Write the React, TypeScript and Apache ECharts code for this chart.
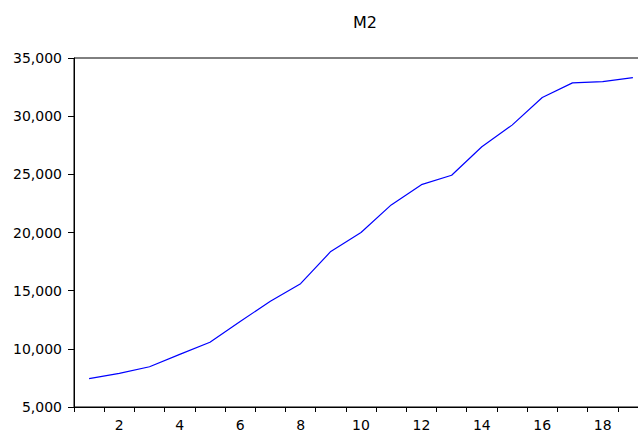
import React, { useEffect, useRef } from "react";
import * as echarts from "echarts";

const title = "M2";
const categories = ["1","2","3","4","5","6","7","8","9","10","11","12","13","14","15","16","17","18","19"];
const m2Values = [7440, 7890, 8460, 9520, 10570, 12350, 14090, 15600, 18370, 20000, 22370, 24110, 24920, 27370, 29230, 31610, 32860, 32970, 33320];
const yMin = 5000;
const yMax = 35000;
const yStep = 5000;

export default function App() {
  const ref = useRef<HTMLDivElement>(null);
  useEffect(() => {
    if (!ref.current) return;
    const chart = echarts.init(ref.current, undefined, { renderer: "svg" });
    const font = "DejaVu Sans";
    chart.setOption({
      animation: false,
      backgroundColor: "#ffffff",
      title: {
        text: title,
        left: 348,
        top: 9,
        textStyle: { fontFamily: font, fontSize: 16, fontWeight: "normal", color: "#000" },
      },
      grid: {
        left: 74,
        top: 58,
        bottom: 24,
        right: 12,
        show: true,
        borderColor: "#000",
        borderWidth: 1,
        containLabel: false,
      },
      xAxis: {
        type: "category",
        data: categories,
        boundaryGap: true,
        axisLine: { show: true, lineStyle: { color: "#000", width: 1 } },
        axisTick: { show: true, interval: 0, length: 5, lineStyle: { color: "#000" } },
        axisLabel: {
          interval: (i: number) => i % 2 === 1,
          margin: 11,
          color: "#000",
          fontFamily: font,
          fontSize: 14,
        },
        splitLine: { show: false },
      },
      yAxis: {
        type: "value",
        min: yMin,
        max: yMax,
        interval: yStep,
        axisLine: { show: true, lineStyle: { color: "#000", width: 1 } },
        axisTick: { show: true, length: 6, lineStyle: { color: "#000" } },
        axisLabel: {
          margin: 12,
          color: "#000",
          fontFamily: font,
          fontSize: 14,
          formatter: (v: number) => v.toLocaleString("en-US"),
        },
        splitLine: { show: false },
      },
      series: [
        {
          type: "line",
          data: m2Values,
          symbol: "none",
          lineStyle: { color: "#0000ff", width: 1.2 },
        },
      ],
    });
    return () => chart.dispose();
  }, []);
  return (
    <div style={{ position: "absolute", left: 0, top: 0, width: 638, height: 432, overflow: "hidden" }}>
      <div ref={ref} style={{ width: 660, height: 432 }} />
    </div>
  );
}
